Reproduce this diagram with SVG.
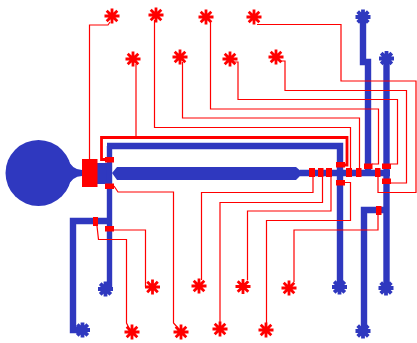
<svg xmlns="http://www.w3.org/2000/svg" width="417" height="343" viewBox="0 0 417 343">
<style>
.b{fill:none;stroke:#2f38bf;stroke-width:6.400}
.bf{fill:#2f38bf}
.r{fill:none;stroke:#f00;stroke-width:1.200}
.p{fill:#f00}
.sr{fill:none;stroke:#f00;stroke-width:2.800}
.sb{fill:none;stroke:#2f38bf;stroke-width:3.800}
</style>
<defs>
<path id="star" d="M-7.500,0H7.500M0,-7.500V7.500M-5.300,-5.300L5.300,5.300M-5.300,5.300L5.300,-5.300"/>
</defs>
<rect width="417" height="343" fill="#fff"/>
<g id="traces">
<circle class="bf" cx="38.500" cy="173" r="33"/>
<path class="bf" d="M67,158Q72,170 82,170V176Q72,176 67,188Z"/>
<rect class="bf" x="97" y="163" width="15" height="21"/>
<path class="bf" d="M112,173L117,167H296L302,172V174L296,180H117Z"/>
<path class="b" d="M300,173H390"/>
<path class="b" style="stroke-width:5.400" d="M109.500,146V288"/>
<path class="b" d="M107,146H340V288"/>
<path class="b" d="M109,221H73V330H80"/>
<path class="b" d="M363,17V62H368V170"/>
<path class="b" d="M386.500,58V288"/>
<path class="b" d="M386,210H364V331"/>
</g>
<g id="connectors">
<path class="r" d="M110,22L108,25H89.500V159"/>
<path class="r" d="M154.500,20V127.500H350.500V168"/>
<path class="r" d="M136,64V137"/>
<path class="r" d="M182.500,62V118H359.500V168"/>
<path class="r" d="M210.500,22V109H378.500V164H372"/>
<path class="r" d="M234,62H238V99.500H397.500V164H391"/>
<path class="r" d="M257,24.500H341V81H416V192.500H378V177"/>
<path class="r" d="M280,61H285V90.500H406.500V183H391"/>
<path class="r" style="stroke-width:2.800" d="M107,159.500H101.500V137.500H347V165H342"/>
<path class="r" d="M114,186L118,192H173.500V323L178,328"/>
<path class="r" d="M114,230H145.500V287"/>
<path class="r" d="M97,226L98.500,239.500H126.500V323L129,328"/>
<path class="r" d="M313,177V192.500H201.500V280"/>
<path class="r" d="M322.500,177V202.500H220V323"/>
<path class="r" d="M331,177V211H247.500V280"/>
<path class="r" d="M345,182.500H350.500V220.500H266.500V323"/>
<path class="r" d="M378,215V230H294V282"/>
</g>
<g id="pads" class="p">
<rect x="82" y="159" width="15.500" height="28"/>
<rect x="105" y="157" width="9" height="5.500"/>
<rect x="105" y="183.500" width="9" height="5.500"/>
<rect x="105" y="226" width="9" height="5.500"/>
<rect x="93" y="217" width="5" height="9"/>
<rect x="309" y="168" width="6" height="9"/>
<rect x="318" y="168" width="5.500" height="9"/>
<rect x="326" y="168" width="6" height="9"/>
<rect x="346" y="168" width="6" height="9"/>
<rect x="356" y="168" width="5.500" height="9"/>
<rect x="375" y="168" width="5.500" height="9"/>
<rect x="336" y="162" width="9" height="5.500"/>
<rect x="336" y="180" width="9" height="5.500"/>
<rect x="364" y="163.500" width="8.500" height="5.500"/>
<rect x="382" y="163.500" width="9" height="5.500"/>
<rect x="382" y="178.500" width="9" height="5.500"/>
<rect x="376" y="206" width="5.500" height="9"/>
</g>
<g id="star-r1" class="sr"><use href="#star" x="112" y="16"/></g>
<g id="star-r2" class="sr"><use href="#star" x="156" y="15"/></g>
<g id="star-r3" class="sr"><use href="#star" x="206" y="17"/></g>
<g id="star-r4" class="sr"><use href="#star" x="254" y="17"/></g>
<g id="star-r5" class="sr"><use href="#star" x="133" y="59"/></g>
<g id="star-r6" class="sr"><use href="#star" x="180" y="57"/></g>
<g id="star-r7" class="sr"><use href="#star" x="230" y="59"/></g>
<g id="star-r8" class="sr"><use href="#star" x="276" y="57"/></g>
<g id="star-r9" class="sr"><use href="#star" x="152.500" y="287"/></g>
<g id="star-r10" class="sr"><use href="#star" x="199" y="286"/></g>
<g id="star-r11" class="sr"><use href="#star" x="243" y="286.500"/></g>
<g id="star-r12" class="sr"><use href="#star" x="289" y="288"/></g>
<g id="star-r13" class="sr"><use href="#star" x="132" y="332"/></g>
<g id="star-r14" class="sr"><use href="#star" x="181" y="332"/></g>
<g id="star-r15" class="sr"><use href="#star" x="220" y="329"/></g>
<g id="star-r16" class="sr"><use href="#star" x="266" y="330"/></g>
<g id="star-b1" class="sb"><use href="#star" x="363" y="17"/></g>
<g id="star-b2" class="sb"><use href="#star" x="386.500" y="58.500"/></g>
<g id="star-b3" class="sb"><use href="#star" x="105.500" y="289"/></g>
<g id="star-b4" class="sb"><use href="#star" x="82.500" y="330"/></g>
<g id="star-b5" class="sb"><use href="#star" x="339.500" y="287"/></g>
<g id="star-b6" class="sb"><use href="#star" x="386" y="288"/></g>
<g id="star-b7" class="sb"><use href="#star" x="363" y="331"/></g>
</svg>
